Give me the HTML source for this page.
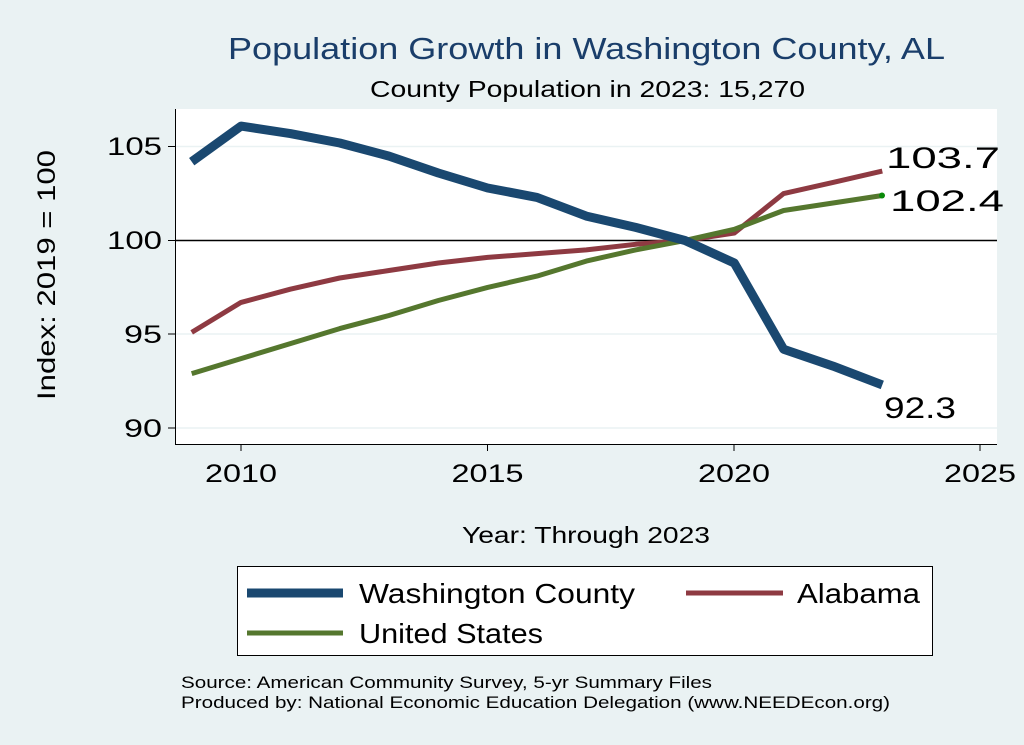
<!DOCTYPE html>
<html><head><meta charset="utf-8"><style>
body{margin:0;background:#eaf2f3;}
svg{display:block;font-family:"Liberation Sans",sans-serif;}
</style></head><body>
<svg id="s" width="1024" height="745" xmlns="http://www.w3.org/2000/svg">
<rect width="1024" height="745" fill="#eaf2f3"/>
<rect x="175" y="109" width="822" height="335" fill="#fff"/>
<g stroke="#eaf2f3" stroke-width="1.5">
<line x1="175" x2="997" y1="146.5" y2="146.5"/>
<line x1="175" x2="997" y1="334" y2="334"/>
<line x1="175" x2="997" y1="428" y2="428"/>
</g>
<line x1="175" x2="997" y1="240.5" y2="240.5" stroke="#000" stroke-width="1.5"/>
<line x1="175.5" x2="175.5" y1="109" y2="444" stroke="#000" stroke-width="1"/>
<line x1="175" x2="997" y1="444.5" y2="444.5" stroke="#000" stroke-width="1"/>
<g stroke="#000" stroke-width="1">
<line x1="168" x2="175" y1="146.5" y2="146.5"/><line x1="168" x2="175" y1="240.5" y2="240.5"/>
<line x1="168" x2="175" y1="334" y2="334"/><line x1="168" x2="175" y1="428" y2="428"/>
<line x1="241" x2="241" y1="444" y2="451"/><line x1="487.5" x2="487.5" y1="444" y2="451"/>
<line x1="734" x2="734" y1="444" y2="451"/><line x1="980" x2="980" y1="444" y2="451"/>
</g>
<g font-size="25" lengthAdjust="spacingAndGlyphs">
<text x="107" y="155" textLength="55" lengthAdjust="spacingAndGlyphs">105</text>
<text x="107" y="249" textLength="55" lengthAdjust="spacingAndGlyphs">100</text>
<text x="124" y="343" textLength="38" lengthAdjust="spacingAndGlyphs">95</text>
<text x="124" y="437" textLength="38" lengthAdjust="spacingAndGlyphs">90</text>
</g>
<g font-size="25">
<text x="205" y="482" textLength="72" lengthAdjust="spacingAndGlyphs">2010</text>
<text x="451.5" y="482" textLength="72" lengthAdjust="spacingAndGlyphs">2015</text>
<text x="698" y="482" textLength="72" lengthAdjust="spacingAndGlyphs">2020</text>
<text x="944" y="482" textLength="72" lengthAdjust="spacingAndGlyphs">2025</text>
</g>
<text x="228" y="59" font-size="31" fill="#1a3e6a" textLength="717" lengthAdjust="spacingAndGlyphs">Population Growth in Washington County, AL</text>
<text x="370" y="97" font-size="23" textLength="435" lengthAdjust="spacingAndGlyphs">County Population in 2023: 15,270</text>
<text x="55" y="400" font-size="25" transform="rotate(-90 55 400)" textLength="250" lengthAdjust="spacingAndGlyphs" dy="0">Index: 2019 = 100</text>
<text x="462" y="543" font-size="23" textLength="248" lengthAdjust="spacingAndGlyphs">Year: Through 2023</text>
<g id="lines"></g>
<g font-size="30">
<text x="886" y="168" textLength="114" lengthAdjust="spacingAndGlyphs">103.7</text>
<text x="890" y="211" textLength="114" lengthAdjust="spacingAndGlyphs">102.4</text>
<text x="884" y="418" textLength="72" lengthAdjust="spacingAndGlyphs">92.3</text>
</g>
<rect x="237.5" y="566.5" width="695" height="89" fill="#fff" stroke="#000" stroke-width="1"/>
<line x1="247" x2="343" y1="593" y2="593" stroke="#1a4870" stroke-width="9"/>
<text x="359" y="603" font-size="28" textLength="276" lengthAdjust="spacingAndGlyphs">Washington  County</text>
<line x1="686" x2="783" y1="593" y2="593" stroke="#8e3a42" stroke-width="5"/>
<text x="797" y="603" font-size="28" textLength="123" lengthAdjust="spacingAndGlyphs">Alabama</text>
<line x1="247" x2="343" y1="633" y2="633" stroke="#55772e" stroke-width="5"/>
<text x="359" y="643" font-size="28" textLength="184" lengthAdjust="spacingAndGlyphs">United States</text>
<text x="181" y="688" font-size="17" textLength="531" lengthAdjust="spacingAndGlyphs">Source: American Community Survey, 5-yr Summary Files</text>
<text x="181" y="708" font-size="17" textLength="709" lengthAdjust="spacingAndGlyphs">Produced by: National Economic Education Delegation (www.NEEDEcon.org)</text>
</svg>
<script>
var wc=[104.2,106.1,105.7,105.2,104.5,103.6,102.8,102.3,101.3,100.7,100,98.8,94.2,93.3,92.3];
var al=[95.1,96.7,97.4,98.0,98.4,98.8,99.1,99.3,99.5,99.8,100,100.4,102.5,103.1,103.7];
var us=[92.9,93.7,94.5,95.3,96.0,96.8,97.5,98.1,98.9,99.5,100,100.6,101.6,102.0,102.4];
function pts(a){return a.map(function(v,i){return (241+(i-1)*49.33).toFixed(1)+","+(240.5-(v-100)*18.75).toFixed(1)}).join(" ");}
var g=document.getElementById("lines");
g.innerHTML='<polyline fill="none" stroke="#8e3a42" stroke-width="5" stroke-linejoin="round" points="'+pts(al)+'"/>'+
'<polyline fill="none" stroke="#55772e" stroke-width="5" stroke-linejoin="round" points="'+pts(us)+'"/>'+
'<polyline fill="none" stroke="#1a4870" stroke-width="9" stroke-linejoin="round" points="'+pts(wc)+'"/>'+
'<circle cx="882" cy="'+(240.5-2.4*18.75)+'" r="3" fill="#0a8a0a"/>';
</script>
</body></html>
